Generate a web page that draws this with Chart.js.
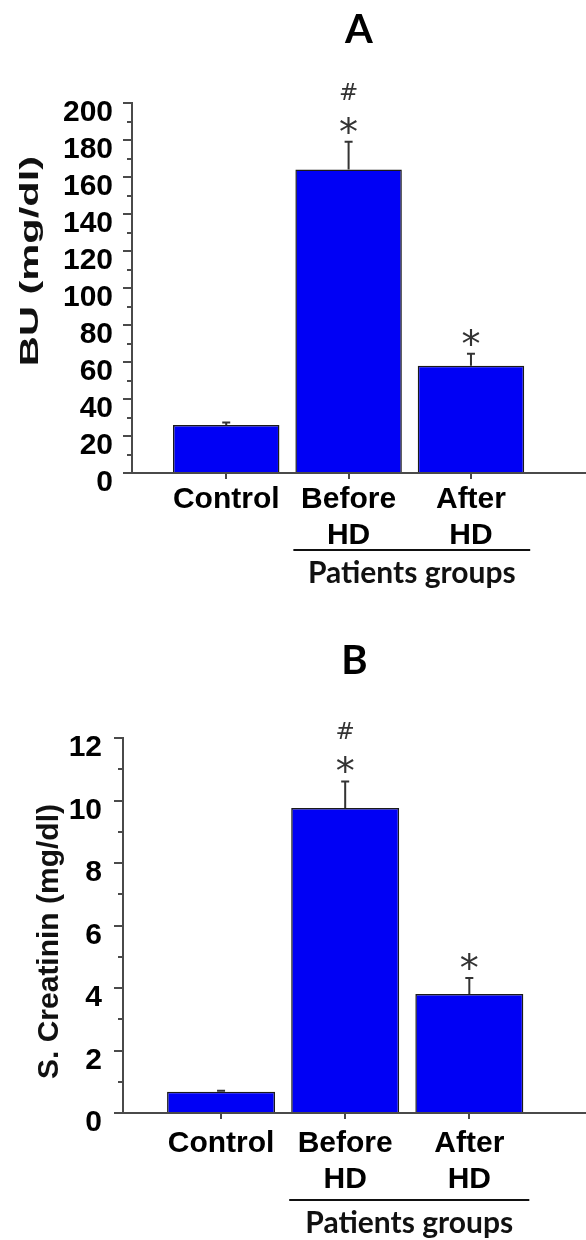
<!DOCTYPE html>
<html>
<head>
<meta charset="utf-8">
<script src="https://cdn.jsdelivr.net/npm/chart.js@4.4.0/dist/chart.umd.min.js"></script>
<style>
  html, body { margin: 0; padding: 0; background: #fff; }
  .panel { position: relative; width: 586px; height: 620px; }
</style>
</head>
<body>
<div class="panel"><canvas id="buChart"></canvas></div>
<div class="panel"><canvas id="creatChart"></canvas></div>
<script>
const groups = [["Control"], ["Before", "HD"], ["After", "HD"]];

const buMeans = [26, 164, 58];
const buErrors = [1.3, 15, 6.5];
const buMarks = [[], ["#", "*"], ["*"]];
const buTickLabels = [0, 20, 40, 60, 80, 100, 120, 140, 160, 180, 200];

const creatMeans = [0.68, 9.76, 3.81];
const creatErrors = [0.03, 0.85, 0.51];
const creatMarks = [[], ["#", "*"], ["*"]];
const creatTickLabels = [0, 2, 4, 6, 8, 10, 12];

const FONT = "'Liberation Sans', Arial, sans-serif";
const AXIS = "#4a4a4a";

// error bars and significance marks above each bar
const errorBars = {
  id: "errorBars",
  afterDatasetsDraw(chart, args, opts) {
    const { ctx } = chart;
    const y = chart.scales.y;
    const bars = chart.getDatasetMeta(0).data;
    ctx.save();
    bars.forEach((bar, i) => {
      const top = y.getPixelForValue(opts.means[i] + opts.errors[i]);
      ctx.strokeStyle = "#333";
      ctx.lineWidth = 2;
      ctx.beginPath();
      ctx.moveTo(bar.x, bar.y);
      ctx.lineTo(bar.x, top);
      ctx.moveTo(bar.x - 4, top);
      ctx.lineTo(bar.x + 4, top);
      ctx.stroke();

      const marks = opts.marks[i].slice().reverse();
      ctx.fillStyle = "#333";
      ctx.textAlign = "center";
      ctx.textBaseline = "alphabetic";
      marks.forEach(m => {
        if (m === "*") {
          ctx.font = "38px 'DejaVu Sans', sans-serif";
          ctx.fillText(m, bar.x, top - 18 + 21);
        } else {
          ctx.font = "23px 'DejaVu Sans', sans-serif";
          ctx.fillText(m, bar.x, top - 50 + 8);
        }
      });
    });
    ctx.restore();
  }
};

// "Patients groups" bracket under the two patient bars
const groupLabel = {
  id: "groupLabel",
  afterDraw(chart, args, opts) {
    const { ctx } = chart;
    const bars = chart.getDatasetMeta(0).data;
    const left = bars[1].x - bars[1].width / 2 - 2;
    const right = bars[2].x + bars[2].width / 2 + 6;
    const lineY = chart.chartArea.bottom + opts.gap;
    ctx.save();
    ctx.strokeStyle = "#111";
    ctx.lineWidth = 2;
    ctx.beginPath();
    ctx.moveTo(left, lineY);
    ctx.lineTo(right, lineY);
    ctx.stroke();
    ctx.fillStyle = "#111";
    ctx.font = "bold 30px Lato, sans-serif";
    ctx.textAlign = "center";
    ctx.textBaseline = "alphabetic";
    ctx.fillText(opts.text, (left + right) / 2, lineY + 33);
    ctx.restore();
  }
};

// rotated y axis title (the original one is stretched along its length)
const yTitle = {
  id: "yTitle",
  afterDraw(chart, args, opts) {
    const { ctx, chartArea } = chart;
    ctx.save();
    ctx.translate(opts.x, (chartArea.top + chartArea.bottom) / 2 + opts.shift);
    ctx.rotate(-Math.PI / 2);
    ctx.scale(opts.stretch, 1);
    ctx.font = `bold ${opts.size}px ${FONT}`;
    ctx.textAlign = "center";
    ctx.textBaseline = "middle";
    ctx.fillStyle = "#111";
    ctx.fillText(opts.text, 0, 0);
    ctx.restore();
  }
};

function makeChart(id, p) {
  return new Chart(document.getElementById(id), {
    type: "bar",
    data: {
      datasets: [{
        data: p.means.map((v, i) => ({ x: i + 1, y: v })),
        backgroundColor: "#0000f5",
        borderColor: "#1a1a1a",
        borderWidth: 1.5,
        barPercentage: 0.87,
        categoryPercentage: 1
      }]
    },
    options: {
      responsive: true,
      maintainAspectRatio: false,
      animation: false,
      layout: { padding: 0 },
      plugins: {
        legend: { display: false },
        tooltip: { enabled: false },
        title: {
          display: true,
          text: p.panel,
          fullSize: false,
          color: "#000",
          font: { family: "Lato, sans-serif", size: 40, weight: "bold", lineHeight: 1.2 },
          padding: { top: p.titleTop, bottom: p.titleBottom }
        },
        errorBars: { means: p.means, errors: p.errors, marks: p.marks },
        groupLabel: { text: "Patients groups", gap: p.groupGap },
        yTitle: { text: p.yLabel, x: p.yTitleX, shift: p.yTitleShift, size: p.yTitleSize, stretch: p.yTitleStretch }
      },
      scales: {
        x: {
          type: "linear",
          min: p.xMin,
          max: p.xMax,
          offset: false,
          afterBuildTicks: s => { s.ticks = groups.map((g, i) => ({ value: i + 1 })); },
          afterFit: s => { s.height = p.xHeight; },
          border: { color: AXIS, width: 2 },
          grid: { offset: false, drawOnChartArea: false, tickLength: 6, color: AXIS, lineWidth: 2 },
          ticks: {
            autoSkip: false,
            maxRotation: 0,
            padding: p.xPad,
            color: "#000",
            font: { family: FONT, size: 30, weight: "bold", lineHeight: 1.2 },
            callback: (v, i) => groups[i]
          }
        },
        y: {
          min: 0,
          max: p.yMax,
          afterFit: s => { s.width = p.yWidth; },
          border: { color: AXIS, width: 2 },
          grid: {
            drawOnChartArea: false,
            tickLength: 9,
            color: AXIS,
            lineWidth: 2,
            tickBorderDash: c => (c.tick && !p.tickLabels.includes(c.tick.value)) ? [0, 4, 6, 40] : []
          },
          ticks: {
            stepSize: p.yStep,
            autoSkip: false,
            padding: p.yPad,
            labelOffset: 10,
            color: "#000",
            font: { family: FONT, size: 30, weight: "bold" },
            callback: v => p.tickLabels.includes(v) ? String(v) : ""
          }
        }
      }
    },
    plugins: [errorBars, groupLabel, yTitle]
  });
}

makeChart("buChart", {
  panel: "A", means: buMeans, errors: buErrors, marks: buMarks, tickLabels: buTickLabels,
  yLabel: "BU (mg/dl)", yMax: 200, yStep: 10,
  xMin: 0.23, xMax: 3.94, xHeight: 147, xPad: 3, yWidth: 132, yPad: 10,
  titleTop: 6, titleBottom: 49, groupGap: 77,
  yTitleX: 31, yTitleShift: -27, yTitleSize: 26, yTitleStretch: 1.6
});

makeChart("creatChart", {
  panel: "B", means: creatMeans, errors: creatErrors, marks: creatMarks, tickLabels: creatTickLabels,
  yLabel: "S. Creatinin (mg/dl)", yMax: 12, yStep: 1,
  xMin: 0.21, xMax: 3.94, xHeight: 127, xPad: 7, yWidth: 123, yPad: 12,
  titleTop: 17, titleBottom: 53, groupGap: 87,
  yTitleX: 50, yTitleShift: 16, yTitleSize: 30, yTitleStretch: 1
});
</script>
</body>
</html>
